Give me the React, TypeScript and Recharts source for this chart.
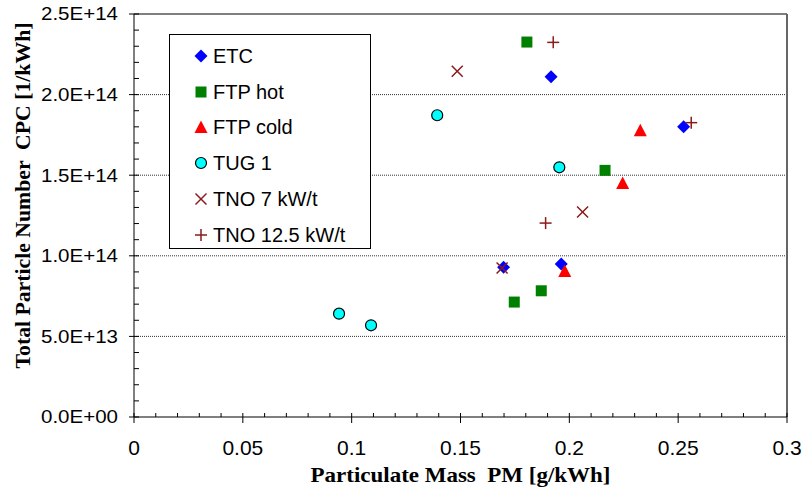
import { ScatterChart, Scatter, XAxis, YAxis, ReferenceLine, Legend } from "recharts";

// [PM g/kWh, particle number 1/kWh]
const ETC: [number, number][] = [
  [0.1916, 2.11e14],
  [0.2525, 1.8e14],
  [0.1698, 9.29e13],
  [0.1963, 9.49e13],
];
const FTP_HOT: [number, number][] = [
  [0.1805, 2.326e14],
  [0.2164, 1.53e14],
  [0.1871, 7.83e13],
  [0.1747, 7.13e13],
];
const FTP_COLD: [number, number][] = [
  [0.2326, 1.779e14],
  [0.2245, 1.452e14],
  [0.1979, 9.06e13],
];
const TUG_1: [number, number][] = [
  [0.1393, 1.872e14],
  [0.1954, 1.549e14],
  [0.0942, 6.41e13],
  [0.1089, 5.69e13],
];
const TNO_7: [number, number][] = [
  [0.1485, 2.145e14],
  [0.2061, 1.272e14],
  [0.1691, 9.24e13],
];
const TNO_12_5: [number, number][] = [
  [0.1926, 2.324e14],
  [0.256, 1.826e14],
  [0.1891, 1.203e14],
];

const X_LABELS = ["0", "0.05", "0.1", "0.15", "0.2", "0.25", "0.3"];
const Y_LABELS = ["0.0E+00", "5.0E+13", "1.0E+14", "1.5E+14", "2.0E+14", "2.5E+14"];
const Y_GRID = [5e13, 1e14, 1.5e14, 2e14];

// minor ticks every 0.01 / 1e13, majors every fifth one
const X_TICKS = Array.from({ length: 31 }, (_, i) => i / 100);
const Y_TICKS = Array.from({ length: 26 }, (_, i) => i * 1e13);

const SANS = "'Liberation Sans', Arial, sans-serif";
const SERIF = "'Liberation Serif', 'Times New Roman', serif";
const DARK_RED = "#8b1a1a";

type Kind = "diamond" | "square" | "triangle" | "circle" | "cross" | "plus";

const SERIES: { name: string; data: [number, number][]; kind: Kind; color: string }[] = [
  { name: "ETC", data: ETC, kind: "diamond", color: "#0000ff" },
  { name: "FTP hot", data: FTP_HOT, kind: "square", color: "#008000" },
  { name: "FTP cold", data: FTP_COLD, kind: "triangle", color: "#ff0000" },
  { name: "TUG 1", data: TUG_1, kind: "circle", color: "#00ffff" },
  { name: "TNO 7 kW/t", data: TNO_7, kind: "cross", color: DARK_RED },
  { name: "TNO 12.5 kW/t", data: TNO_12_5, kind: "plus", color: DARK_RED },
];

function Marker({ kind, cx, cy, color }: { kind: Kind; cx: number; cy: number; color: string }) {
  switch (kind) {
    case "diamond":
      return (
        <polygon
          points={`${cx},${cy - 6.5} ${cx + 6.5},${cy} ${cx},${cy + 6.5} ${cx - 6.5},${cy}`}
          fill={color}
        />
      );
    case "square":
      return <rect x={cx - 5.5} y={cy - 5.5} width={11} height={11} fill={color} />;
    case "triangle":
      return (
        <polygon
          points={`${cx},${cy - 6.5} ${cx + 6.5},${cy + 6} ${cx - 6.5},${cy + 6}`}
          fill={color}
        />
      );
    case "circle":
      return <circle cx={cx} cy={cy} r={5.5} fill={color} stroke="#000" strokeWidth={1.2} />;
    case "cross":
      return (
        <g stroke={color} strokeWidth={1.5}>
          <line x1={cx - 5.5} y1={cy - 5.5} x2={cx + 5.5} y2={cy + 5.5} />
          <line x1={cx - 5.5} y1={cy + 5.5} x2={cx + 5.5} y2={cy - 5.5} />
        </g>
      );
    default:
      return (
        <g stroke={color} strokeWidth={1.5}>
          <line x1={cx - 6} y1={cy} x2={cx + 6} y2={cy} />
          <line x1={cx} y1={cy - 6} x2={cx} y2={cy + 6} />
        </g>
      );
  }
}

function XTick({ x, y, payload }: any) {
  const idx = Math.round(payload.value * 100);
  if (idx % 5 !== 0) {
    return <line x1={x} x2={x} y1={y - 4} y2={y} stroke="#000" />;
  }
  return (
    <g>
      <line x1={x} x2={x} y1={y - 4} y2={y + 6} stroke="#000" />
      <text x={x} y={y + 38} textAnchor="middle" fontFamily={SANS} fontSize={21} fill="#000">
        {X_LABELS[idx / 5]}
      </text>
    </g>
  );
}

function YTick({ x, y, payload }: any) {
  const idx = Math.round(payload.value / 1e13);
  if (idx % 5 !== 0) {
    return <line x1={x} x2={x + 5} y1={y} y2={y} stroke="#000" />;
  }
  return (
    <g>
      <line x1={x - 5} x2={x + 5} y1={y} y2={y} stroke="#000" />
      <text
        x={x - 16}
        y={y + 6.3}
        textAnchor="end"
        fontFamily={SANS}
        fontSize={18}
        textLength={77}
        lengthAdjust="spacingAndGlyphs"
        fill="#000"
      >
        {Y_LABELS[idx / 5]}
      </text>
    </g>
  );
}

function LegendBox() {
  return (
    <div
      style={{
        position: "relative",
        width: 202,
        height: 215,
        boxSizing: "border-box",
        border: "1px solid #000",
        background: "#fff",
        fontFamily: SANS,
        fontSize: 20,
        color: "#000",
      }}
    >
      {SERIES.map((s, i) => (
        <div
          key={s.name}
          style={{ position: "absolute", left: 0, top: 10 + i * 35.7, height: 22, lineHeight: "22px", whiteSpace: "nowrap" }}
        >
          <svg width={16} height={16} style={{ position: "absolute", left: 23, top: 3 }}>
            <Marker kind={s.kind} cx={8} cy={8} color={s.color} />
          </svg>
          <span style={{ position: "absolute", left: 43 }}>{s.name}</span>
        </div>
      ))}
    </div>
  );
}

export default function App() {
  return (
    <div style={{ position: "absolute", left: 0, top: 0, background: "#fff" }}>
      <ScatterChart width={806} height={489} margin={{ top: 14, right: 19, bottom: 0, left: 0 }}>
        <XAxis
          type="number"
          dataKey="pm"
          domain={[0, 0.3]}
          ticks={X_TICKS}
          interval={0}
          tickLine={false}
          tickSize={0}
          tickMargin={0}
          height={72}
          axisLine={{ stroke: "#000" }}
          tick={(p: any) => <XTick {...p} />}
          label={{
            content: ({ viewBox }: any) => (
              <text
                x={viewBox.x + viewBox.width / 2}
                y={viewBox.y + 65}
                textAnchor="middle"
                fontFamily={SERIF}
                fontWeight="bold"
                fontSize={21}
                textLength={300}
                lengthAdjust="spacingAndGlyphs"
                fill="#000"
                style={{ whiteSpace: "pre" }}
              >
                {"Particulate Mass  PM [g/kWh]"}
              </text>
            ),
          }}
        />
        <YAxis
          type="number"
          dataKey="pn"
          domain={[0, 2.5e14]}
          ticks={Y_TICKS}
          interval={0}
          tickLine={false}
          tickSize={0}
          tickMargin={0}
          width={134}
          axisLine={{ stroke: "#000" }}
          tick={(p: any) => <YTick {...p} />}
          label={{
            content: ({ viewBox }: any) => {
              const cx = viewBox.x + 30;
              const cy = viewBox.y + viewBox.height / 2 - 20;
              return (
                <text
                  x={cx}
                  y={cy}
                  transform={`rotate(-90, ${cx}, ${cy})`}
                  textAnchor="middle"
                  fontFamily={SERIF}
                  fontWeight="bold"
                  fontSize={21}
                  textLength={346}
                  lengthAdjust="spacingAndGlyphs"
                  fill="#000"
                  style={{ whiteSpace: "pre" }}
                >
                  {"Total Particle Number  CPC [1/kWh]"}
                </text>
              );
            },
          }}
        />
        {Y_GRID.map((v) => (
          <ReferenceLine key={v} y={v} stroke="#333" strokeDasharray="1 1" />
        ))}
        <ReferenceLine y={2.5e14} stroke="#555" strokeWidth={1.5} />
        <ReferenceLine x={0.3} stroke="#666" strokeWidth={2} />
        <Legend
          layout="vertical"
          align="center"
          verticalAlign="middle"
          wrapperStyle={{ left: 169, top: 34, width: 202, height: 215 }}
          content={() => <LegendBox />}
        />
        {SERIES.map((s) => (
          <Scatter
            key={s.name}
            name={s.name}
            data={s.data.map(([pm, pn]) => ({ pm, pn }))}
            fill={s.color}
            isAnimationActive={false}
            shape={(p: any) => <Marker kind={s.kind} cx={p.cx} cy={p.cy} color={s.color} />}
          />
        ))}
      </ScatterChart>
    </div>
  );
}
